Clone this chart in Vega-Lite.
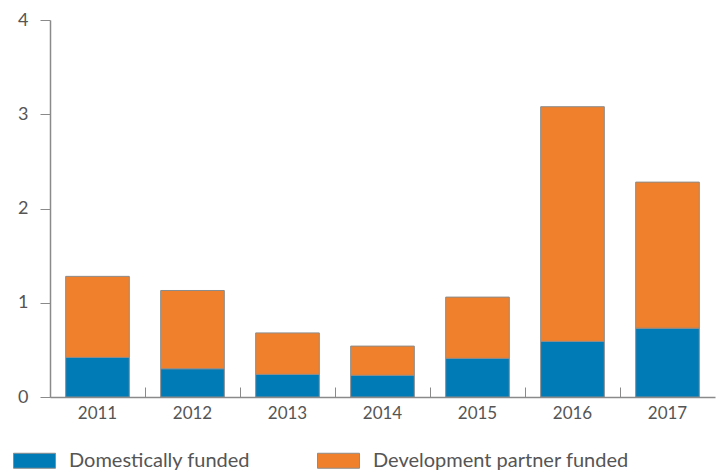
{
  "$schema": "https://vega.github.io/schema/vega-lite/v6.json",
  "width": 665,
  "height": 377,
  "padding": {"left": 50, "top": 20, "right": 8, "bottom": 75},
  "autosize": {"type": "none"},
  "background": "white",
  "config": {
    "view": {"stroke": null},
    "font": "Lato",
    "axis": {"labelFont": "Lato", "labelColor": "#555555", "domainColor": "#8a8a8a", "tickColor": "#8a8a8a", "grid": false, "title": null}
  },
  "data": {
    "values": [
      {"year": "2011", "source": "Domestically funded", "value": 0.42},
      {"year": "2011", "source": "Development partner funded", "value": 0.86},
      {"year": "2012", "source": "Domestically funded", "value": 0.30},
      {"year": "2012", "source": "Development partner funded", "value": 0.83},
      {"year": "2013", "source": "Domestically funded", "value": 0.24},
      {"year": "2013", "source": "Development partner funded", "value": 0.44},
      {"year": "2014", "source": "Domestically funded", "value": 0.23},
      {"year": "2014", "source": "Development partner funded", "value": 0.31},
      {"year": "2015", "source": "Domestically funded", "value": 0.41},
      {"year": "2015", "source": "Development partner funded", "value": 0.65},
      {"year": "2016", "source": "Domestically funded", "value": 0.59},
      {"year": "2016", "source": "Development partner funded", "value": 2.49},
      {"year": "2017", "source": "Domestically funded", "value": 0.73},
      {"year": "2017", "source": "Development partner funded", "value": 1.55}
    ]
  },
  "mark": {"type": "bar", "stroke": "#8c8c8c", "strokeWidth": 1, "width": {"band": 0.67}},
  "encoding": {
    "x": {
      "field": "year", "type": "nominal",
      "scale": {"paddingInner": 0, "paddingOuter": 0},
      "axis": {"labelAngle": 0, "labelFontSize": 17, "bandPosition": 0, "tickSize": -10, "labelPadding": 18, "domainWidth": 1.5, "labelOffset": 0}
    },
    "y": {
      "field": "value", "type": "quantitative", "stack": "zero",
      "scale": {"domain": [0, 4]},
      "axis": {"values": [0, 1, 2, 3, 4], "labelFontSize": 18, "tickSize": 10, "labelPadding": 12, "domainWidth": 1.5}
    },
    "color": {
      "field": "source", "type": "nominal",
      "sort": ["Domestically funded", "Development partner funded"],
      "scale": {"domain": ["Domestically funded", "Development partner funded"], "range": ["#007bb6", "#f0802c"]},
      "legend": {
        "title": null, "orient": "none", "legendX": -37, "legendY": 419, "direction": "horizontal", "padding": 0,
        "symbolType": "M-1,-0.357H1V0.357H-1Z", "symbolSize": 1764, "symbolStrokeColor": "#8c8c8c", "symbolStrokeWidth": 1,
        "labelFontSize": 20, "labelColor": "#555555", "labelFont": "Lato", "labelOffset": 13, "columnPadding": 64, "symbolOpacity": 1, "labelLimit": 400
      }
    },
    "order": {"field": "source", "sort": "descending"}
  }
}
